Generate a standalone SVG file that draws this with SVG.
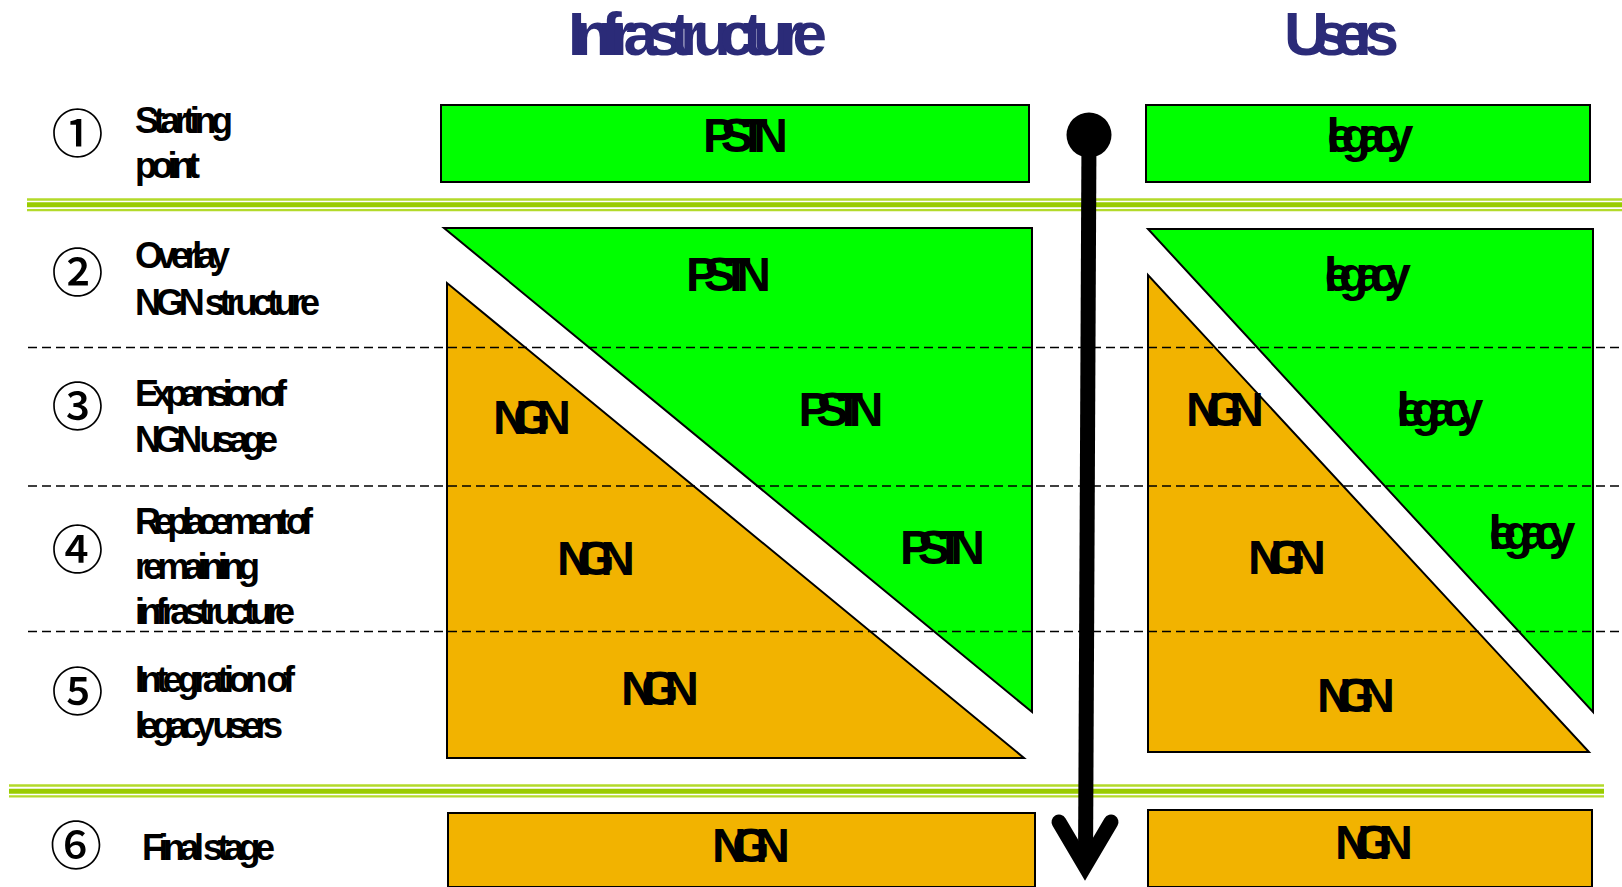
<svg xmlns="http://www.w3.org/2000/svg" width="1622" height="887" viewBox="0 0 1622 887">
<style>
.title{font-family:"Liberation Sans",Arial,sans-serif;font-weight:bold;font-size:62px;fill:#2b2b78}
.lbl{font-family:"Liberation Sans",Arial,sans-serif;font-weight:bold;font-size:36px;fill:#000}
.num{font-family:"Noto Sans CJK JP","DejaVu Sans",sans-serif;font-weight:500;font-size:52px;fill:#000}
.box{font-family:"Liberation Sans",Arial,sans-serif;font-weight:bold;font-size:48px;fill:#000}
.g{fill:#00ff00;stroke:#000;stroke-width:2}
.o{fill:#f2b300;stroke:#000;stroke-width:2}
.thin{stroke:#b3da2a;stroke-width:2.3;fill:none}
.thick{stroke:#99cc00;stroke-width:5;fill:none}
.dash{stroke:#000;stroke-width:1.5;stroke-dasharray:9,5;fill:none}
</style>
<rect width="1622" height="887" fill="#fff"/>

<g id="titles">
<text class="title" x="568" y="55" textLength="259" lengthAdjust="spacing">Infrastructure</text>
<text class="title" x="1284" y="55" textLength="115" lengthAdjust="spacing">Users</text>
</g>

<g id="separators">
<line class="thin" x1="27" y1="199.5" x2="1622" y2="199.5"/>
<line class="thick" x1="27" y1="204.7" x2="1622" y2="204.7"/>
<line class="thin" x1="27" y1="210.2" x2="1622" y2="210.2"/>
<line class="thin" x1="9" y1="785.5" x2="1604" y2="785.5"/>
<line class="thick" x1="9" y1="791.2" x2="1604" y2="791.2"/>
<line class="thin" x1="9" y1="796.3" x2="1604" y2="796.3"/>
</g>

<g id="stage-labels">
<text class="num" x="77.5" y="130" text-anchor="middle" dominant-baseline="central">①</text>
<text class="lbl" x="135" y="133" textLength="98" lengthAdjust="spacing">Starting</text>
<text class="lbl" x="135" y="178" textLength="65" lengthAdjust="spacing">point</text>
<text class="num" x="77.5" y="269" text-anchor="middle" dominant-baseline="central">②</text>
<text class="lbl" x="135" y="268" textLength="95" lengthAdjust="spacing">Overlay</text>
<text class="lbl" x="135" y="315" textLength="185" lengthAdjust="spacing">NGN structure</text>
<text class="num" x="77.5" y="403" text-anchor="middle" dominant-baseline="central">③</text>
<text class="lbl" x="135" y="406" textLength="152" lengthAdjust="spacing">Expansion of</text>
<text class="lbl" x="135" y="452" textLength="143" lengthAdjust="spacing">NGN usage</text>
<text class="num" x="77.5" y="546" text-anchor="middle" dominant-baseline="central">④</text>
<text class="lbl" x="135" y="534" textLength="178" lengthAdjust="spacing">Replacement of</text>
<text class="lbl" x="135" y="579" textLength="125" lengthAdjust="spacing">remaining</text>
<text class="lbl" x="135" y="624" textLength="160" lengthAdjust="spacing">infrastructure</text>
<text class="num" x="77.5" y="688" text-anchor="middle" dominant-baseline="central">⑤</text>
<text class="lbl" x="135" y="692" textLength="160" lengthAdjust="spacing">Integration of</text>
<text class="lbl" x="135" y="738" textLength="148" lengthAdjust="spacing">legacy users</text>
<text class="num" x="76" y="842" text-anchor="middle" dominant-baseline="central">⑥</text>
<text class="lbl" x="142" y="860" textLength="133" lengthAdjust="spacing">Final stage</text>
</g>

<g id="pstn-start">
<rect class="g" x="441" y="105" width="588" height="77"/>
<text class="box" x="745.5" y="152" text-anchor="middle" textLength="85" lengthAdjust="spacing">PSTN</text>
</g>
<g id="legacy-start">
<rect class="g" x="1146" y="105" width="444" height="77"/>
<text class="box" x="1370" y="152" text-anchor="middle" textLength="87" lengthAdjust="spacing">legacy</text>
</g>

<g id="pstn-triangle">
<polygon class="g" points="444,228 1032,228 1032,712"/>
<text class="box" x="728.5" y="291" text-anchor="middle" textLength="85" lengthAdjust="spacing">PSTN</text>
<text class="box" x="841" y="426" text-anchor="middle" textLength="85" lengthAdjust="spacing">PSTN</text>
<text class="box" x="942.5" y="564" text-anchor="middle" textLength="85" lengthAdjust="spacing">PSTN</text>
</g>
<g id="ngn-triangle">
<polygon class="o" points="447,283 447,758 1024,758"/>
<text class="box" x="532" y="433.5" text-anchor="middle" textLength="78" lengthAdjust="spacing">NGN</text>
<text class="box" x="596" y="575" text-anchor="middle" textLength="78" lengthAdjust="spacing">NGN</text>
<text class="box" x="660" y="704.5" text-anchor="middle" textLength="78" lengthAdjust="spacing">NGN</text>
</g>

<g id="legacy-triangle">
<polygon class="g" points="1148,229 1593,229 1593,712"/>
<text class="box" x="1367.5" y="291" text-anchor="middle" textLength="87" lengthAdjust="spacing">legacy</text>
<text class="box" x="1440" y="426" text-anchor="middle" textLength="87" lengthAdjust="spacing">legacy</text>
<text class="box" x="1532" y="549" text-anchor="middle" textLength="87" lengthAdjust="spacing">legacy</text>
</g>
<g id="ngn-users-triangle">
<polygon class="o" points="1148,275 1148,752 1589,752"/>
<text class="box" x="1225" y="426" text-anchor="middle" textLength="78" lengthAdjust="spacing">NGN</text>
<text class="box" x="1287" y="574" text-anchor="middle" textLength="78" lengthAdjust="spacing">NGN</text>
<text class="box" x="1356" y="711.7" text-anchor="middle" textLength="78" lengthAdjust="spacing">NGN</text>
</g>

<g id="ngn-final">
<rect class="o" x="448" y="813" width="587" height="74"/>
<text class="box" x="751" y="861.7" text-anchor="middle" textLength="78" lengthAdjust="spacing">NGN</text>
</g>
<g id="ngn-users-final">
<rect class="o" x="1148" y="810" width="444" height="77"/>
<text class="box" x="1374" y="858.6" text-anchor="middle" textLength="78" lengthAdjust="spacing">NGN</text>
</g>

<g id="stage-dividers">
<line class="dash" x1="28" y1="347.5" x2="1622" y2="347.5"/>
<line class="dash" x1="28" y1="486" x2="1622" y2="486"/>
<line class="dash" x1="28" y1="631.5" x2="1622" y2="631.5"/>
</g>

<g id="connectors">
<circle cx="1089" cy="135" r="22.5" fill="#000"/>
<line x1="1089" y1="135" x2="1085.5" y2="866" stroke="#000" stroke-width="15"/>
<polyline points="1059,822 1085,866 1111,822" fill="none" stroke="#000" stroke-width="15" stroke-linecap="round" stroke-linejoin="miter" stroke-miterlimit="10"/>
</g>
</svg>
